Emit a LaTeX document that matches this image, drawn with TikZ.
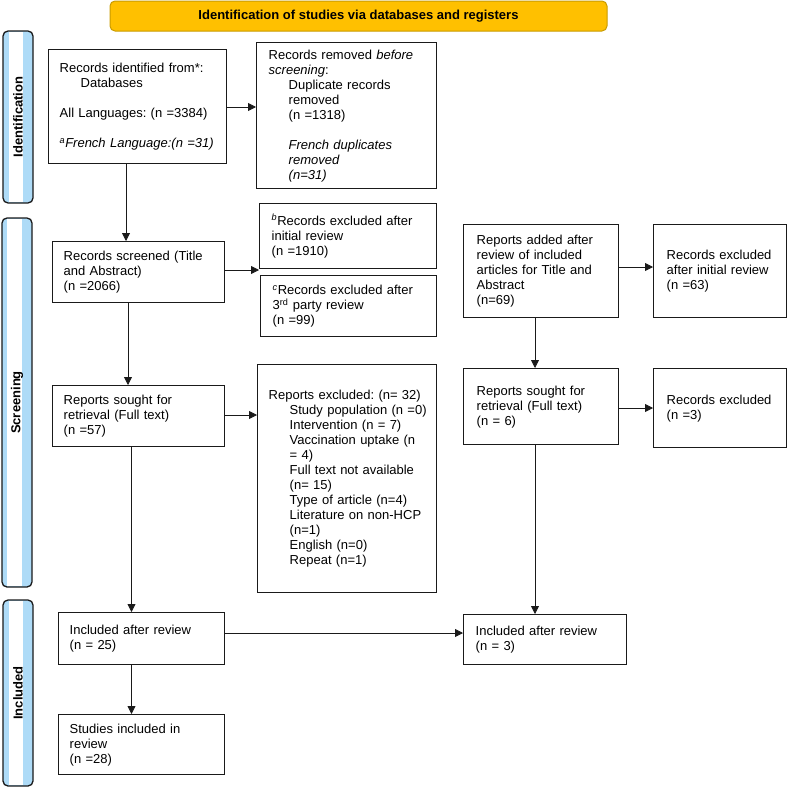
\documentclass[tikz,border=0pt]{standalone}
\usepackage{fontspec}
\setmainfont{Liberation Sans}
\usetikzlibrary{arrows.meta,calc}
\definecolor{bannergold}{HTML}{FFC000}
\definecolor{bannerline}{HTML}{C89B00}
\definecolor{sideblue}{HTML}{AEDBF7}
\definecolor{lineblack}{HTML}{1A1A1A}
\newcommand\ind[1]{\hspace*{21pt}\mbox{#1}}
\frenchspacing
\begin{document}
\begin{tikzpicture}[x=1pt,y=-1pt,
  box/.style={draw=lineblack, line width=1.4pt, fill=white, anchor=north west,
    inner xsep=11pt, inner ysep=0pt, align=left, font=\frenchspacing\fontsize{13}{15}\selectfont},
  arr/.style={draw=lineblack, line width=0.8pt, -{Triangle[width=8pt,length=8pt]}},
  banner/.style={draw=bannerline, line width=1pt, fill=bannergold, rounded corners=5pt,
    font=\bfseries\fontsize{13}{15}\selectfont, inner sep=0pt},
  sidefill/.style={fill=sideblue, rounded corners=5pt},
  sideline/.style={draw=lineblack, line width=1.3pt, rounded corners=5pt},
  sidetext/.style={rotate=90, font=\bfseries\fontsize{13}{15}\selectfont, inner sep=0pt}]
\useasboundingbox (0,0) rectangle (787,787);

% banner
\node[banner, minimum width=497pt, minimum height=30pt] (title) at (358.5,16)
  {Identification of studies via databases and registers};

% side bars
\fill[sidefill] (3,31) rectangle (33,203);
\fill[white] (9,32) rectangle (23,202);
\draw[sideline] (3,31) rectangle (33,203);
\node[sidetext] (sidid) at (18,117) {Identification};

\fill[sidefill] (2,218) rectangle (32,587);
\fill[white] (7,219) rectangle (22,586);
\draw[sideline] (2,218) rectangle (32,587);
\node[sidetext] (sidscr) at (17,402.5) {Screening};

\fill[sidefill] (3,600) rectangle (33,786);
\fill[white] (9,601) rectangle (23,785);
\draw[sideline] (3,600) rectangle (33,786);
\node[sidetext] (sidinc) at (18,693) {Included};

% boxes
\node[box, minimum width=178pt, minimum height=114pt, text width=156pt] (b1) at (48,49)
  {Records identified from*:\\
   \hspace*{21pt}Databases\\[15pt]
   All Languages: (n =3384)\\[15pt]
   \textsuperscript{\textit{a}}\textit{French Language:(n =31)}};

\node[box, minimum width=180pt, minimum height=146pt, inner xsep=12pt, text width=156pt] (b2) at (256,42)
  {Records removed \textit{before}\\
   \textit{screening}:\\
   \hspace*{20pt}Duplicate records\\
   \hspace*{20pt}removed\\
   \hspace*{20pt}(n =1318)\\[15pt]
   \hspace*{20pt}\textit{French duplicates}\\
   \hspace*{20pt}\textit{removed}\\
   \hspace*{20pt}\textit{(n=31)}};

\node[box, minimum width=172pt, minimum height=61pt, text width=150pt] (b3) at (52,241)
  {Records screened (Title\\ and Abstract)\\ (n =2066)};

\node[box, minimum width=177pt, minimum height=65pt, inner xsep=12pt, text width=153pt] (b4) at (259,203)
  {\textsuperscript{\textit{b}}Records excluded after\\ initial review\\ (n =1910)};

\node[box, minimum width=176pt, minimum height=61pt, inner xsep=12pt, text width=152pt] (b5) at (260,275)
  {\textsuperscript{\textit{c}}Records excluded after\\ 3\textsuperscript{rd} party review\\ (n =99)};

\node[box, minimum width=172pt, minimum height=61pt, text width=150pt] (b6) at (52,385)
  {Reports sought for\\ retrieval (Full text)\\ (n =57)};

\node[box, minimum width=179pt, minimum height=228pt, text width=157pt] (b7) at (257,364)
  {\mbox{Reports excluded: (n= 32)}\\
   \ind{Study population (n =0)}\\
   \ind{Intervention (n = 7)}\\
   \ind{Vaccination uptake (n}\\
   \ind{= 4)}\\
   \ind{Full text not available}\\
   \ind{(n= 15)}\\
   \ind{Type of article (n=4)}\\
   \ind{Literature on non-HCP}\\
   \ind{(n=1)}\\
   \ind{English (n=0)}\\
   \ind{Repeat (n=1)}};

\node[box, minimum width=166pt, minimum height=52pt, text width=144pt] (b8) at (58,612)
  {Included after review\\ (n = 25)};

\node[box, minimum width=166pt, minimum height=60pt, text width=144pt] (b9) at (58,714)
  {Studies included in\\ review\\ (n =28)};

\node[box, minimum width=155pt, minimum height=93pt, inner xsep=13pt, text width=129pt] (b10) at (463,224)
  {Reports added after\\ review of included\\ articles for Title and\\ Abstract\\ (n=69)};

\node[box, minimum width=133pt, minimum height=93pt, inner xsep=13pt, text width=107pt] (b11) at (653,224)
  {Records excluded\\ after initial review\\ (n =63)};

\node[box, minimum width=155pt, minimum height=76pt, inner xsep=13pt, text width=129pt] (b12) at (463,368)
  {Reports sought for\\ retrieval (Full text)\\ (n = 6)};

\node[box, minimum width=133pt, minimum height=79pt, inner xsep=13pt, text width=107pt] (b13) at (653,368)
  {Records excluded\\ (n =3)};

\node[box, minimum width=163pt, minimum height=50pt, inner xsep=12pt, text width=139pt] (b14) at (463,614)
  {Included after review\\ (n = 3)};

% connector guides
\coordinate (c1) at (126,0);
\coordinate (c2) at (0,107);
\coordinate (c3) at (0,270);
\coordinate (c4) at (128,0);
\coordinate (c5) at (0,415);
\coordinate (c6) at (131.5,0);
\coordinate (c7) at (0,633);
\coordinate (c8) at (0,267);
\coordinate (c9) at (535,0);
\coordinate (c10) at (0,408);

% connectors
\draw[arr] (b1.south -| c1) -- (b3.north -| c1);
\draw[arr] (b1.east |- c2) -- (b2.west |- c2);
\draw[arr] (b3.east |- c3) -- (b4.west |- c3);
\draw[arr] (b3.south -| c4) -- (b6.north -| c4);
\draw[arr] (b6.east |- c5) -- (b7.west |- c5);
\draw[arr] (b6.south -| c6) -- (b8.north -| c6);
\draw[arr] (b8.south -| c6) -- (b9.north -| c6);
\draw[arr] (b8.east |- c7) -- (b14.west |- c7);
\draw[arr] (b10.east |- c8) -- (b11.west |- c8);
\draw[arr] (b10.south -| c9) -- (b12.north -| c9);
\draw[arr] (b12.east |- c10) -- (b13.west |- c10);
\draw[arr] (b12.south -| c9) -- (b14.north -| c9);
\end{tikzpicture}
\end{document}
